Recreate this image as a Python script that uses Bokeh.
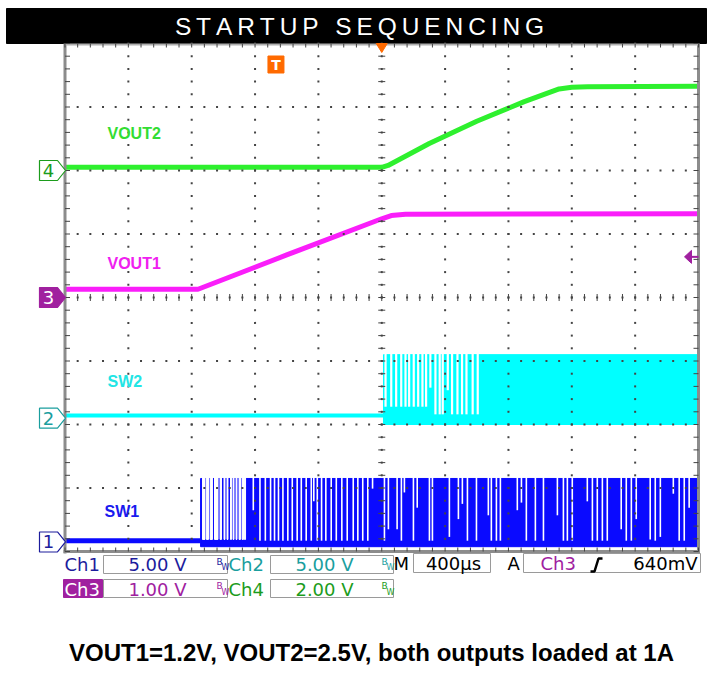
import numpy as np
from bokeh.plotting import figure
from bokeh.models import Range1d
from bokeh.core.properties import value
from bokeh.embed import file_html
from bokeh.resources import INLINE

# ---------------- data ----------------
time_per_div = 400.0            # µs / div, trigger at t = 0
t_min, t_max = -2000.0, 2000.0
n_xdiv, n_ydiv = 10, 8

ch_names = ["1", "2", "3", "4"]
ch_scale = {"1": 5.0, "2": 5.0, "3": 1.0, "4": 2.0}       # V/div
ch_offset = {"1": -3.85, "2": -1.9, "3": 0.0, "4": 2.0}   # div
ch_scale_text = {"1": "5.00 V", "2": "5.00 V", "3": "1.00 V", "4": "2.00 V"}
horiz_text = "400µs"
trig_source = "Ch3"
trig_level_text = "640mV"
trig_level = 0.64               # V on ch3
trig_marker_t = -668            # µs

vout2_t = [-2000, 0, 40, 300, 600, 900, 1120, 1200, 1300, 2000]
vout2_v = [0.10, 0.10, 0.16, 0.85, 1.55, 2.17, 2.57, 2.62, 2.64, 2.65]
vout1_t = [-2000, -1160, -600, 0, 60, 150, 2000]
vout1_v = [0.13, 0.13, 0.67, 1.24, 1.29, 1.31, 1.32]

# SW1 (switch node 1)
sw1_start = -1144
sw1_base, sw1_hi, sw1_lo = 0.1, 5.0, -0.37
sw1_sparse_l = [-1132, -1107, -1084, -1056, -1021, -996, -977, -955, -939, -920, -901, -882, -867]
sw1_sparse_r = [-1116, -1094, -1069, -1034, -1012, -990, -971, -949, -933, -914, -892, -873, -860]
sw1_gap_t = [-811, -769, -735, -702, -677, -652, -624, -593, -565, -534, -508, -477, -445, -429,
             -407, -380, -353, -319, -287, -252, -218, -180, -151, -120, -88, -58, 17, 42, 97,
             124, 143, 200, 224, 301, 320, 427, 484, 509, 541, 598, 673, 692, 724, 749, 856,
             882, 913, 970, 1021, 1109, 1147, 1172, 1203, 1298, 1330, 1361, 1393, 1424, 1512,
             1544, 1576, 1607, 1695, 1727, 1759, 1841, 1878, 1910, 1941]
sw1_gap_v = [2.5, 0.1, 0.1, 0.1, 0.1, 0.1, 0.1, 0.1, 0.1, 0.1, 0.1, 0.1, 0.1, 3.2,
             0.1, 0.1, 0.1, 0.1, 0.1, 0.1, 0.1, 0.1, 0.1, 0.1, 0.1, 4.2, 0.1, 1.0, 1.0,
             0.1, 3.9, 0.1, 2.7, 0.1, 0.1, 0.4, 1.8, 3.0, 0.1, 0.1, 2.1, 0.1, 0.1, 0.1, 2.5,
             3.1, 0.1, 0.1, 0.1, 2.1, 0.1, 0.1, 0.1, 3.2, 0.1, 0.1, 0.1, 0.1, 1.0,
             0.1, 0.1, 1.8, 0.2, 0.1, 0.4, 3.8, 0.1, 0.1, 2.7]

# SW2 (switch node 2)
sw2_start = 11
sw2_base, sw2_hi, sw2_lo = 0.2, 5.0, -0.5
sw2_gap_t = [24, 60, 91, 123, 150, 173, 202, 230, 257, 280, 307, 339, 366, 385, 417, 444, 478,
             507, 535, 574, 606]
sw2_gap_v = [0.9, 0.9, 0.9, 0.9, 0.9, 0.9, 0.9, 0.9, 0.9, 0.9, 2.4, 0.3, 0.3, 0.3, 2.2, 0.3, 0.3,
             0.3, 0.3, 0.3, 0.3]

title_text = "STARTUP SEQUENCING"
caption_text = "VOUT1=1.2V, VOUT2=2.5V, both outputs loaded at 1A"

# ---------------- layout helpers (page pixels -> data) ----------------
LEFT_PX, RIGHT_PX, TOP_PX, BOT_PX = 64.5, 698.0, 43.0, 551.0
CX = (LEFT_PX + RIGHT_PX) / 2
CY = (TOP_PX + BOT_PX) / 2
PXX = (RIGHT_PX - LEFT_PX) / n_xdiv      # px per x div
PXY = (BOT_PX - TOP_PX) / n_ydiv         # px per y div


def X(px):
    return (np.asarray(px, dtype=float) - CX) * time_per_div / PXX


def Y(py):
    return (CY - np.asarray(py, dtype=float)) / PXY


def dx(px):
    return px * time_per_div / PXX


def dy(px):
    return px / PXY


def to_div(ch, v):
    return ch_offset[ch] + np.asarray(v, dtype=float) / ch_scale[ch]


W, H = 710, 689
p = figure(width=W, height=H, output_backend="svg", toolbar_location=None,
           x_range=Range1d(float(X(0)), float(X(W))),
           y_range=Range1d(float(Y(H)), float(Y(0))),
           x_axis_type=None, y_axis_type=None, min_border=0)
p.outline_line_color = None
p.grid.visible = False
p.background_fill_color = "white"
p.border_fill_color = "white"

GREEN, MAGENTA, CYAN, BLUE = "#2ef02e", "#fa1efa", "#00ffff", "#0a0aff"
D_BLUE, TEAL, PURPLE, D_GREEN = "#1c1c9c", "#1a9e9e", "#a0209f", "#1c9c1c"


def txt(x, y, s, color, size, font="DejaVu Sans", style="normal", align="left"):
    p.text(x=[x], y=[y], text=[s], text_color=color, text_font=value(font),
           text_font_size=size, text_font_style=style, text_align=align,
           text_baseline="middle")


# ---------------- title bar ----------------
p.quad(left=X(6), right=X(706), bottom=Y(43), top=Y(8), color="black")
spaced_title = "\u2009".join(title_text)
txt(X(359), Y(26), spaced_title, "white", "24.5px", font="Liberation Sans", align="center")

# ---------------- traces ----------------
y_sw1 = lambda v: to_div("1", v)
y_sw2 = lambda v: to_div("2", v)

# SW1
p.line([t_min, sw1_start], [y_sw1(sw1_base)] * 2, line_width=5, color=BLUE)
p.quad(left=sw1_start, right=t_max, bottom=y_sw1(sw1_lo), top=y_sw1(sw1_hi), color=BLUE)
p.quad(left=sw1_sparse_l, right=sw1_sparse_r, bottom=y_sw1(0.2),
       top=y_sw1(sw1_hi) + dy(3), color="white")
p.segment(x0=sw1_gap_t, x1=sw1_gap_t, y0=y_sw1(sw1_gap_v), y1=y_sw1(sw1_hi) + dy(3),
          line_width=1.6, color="white")

# SW2
p.line([t_min, sw2_start], [y_sw2(sw2_base)] * 2, line_width=4, color=CYAN)
p.quad(left=sw2_start, right=t_max, bottom=y_sw2(sw2_lo), top=y_sw2(sw2_hi), color=CYAN)
p.segment(x0=sw2_gap_t, x1=sw2_gap_t, y0=y_sw2(sw2_gap_v), y1=y_sw2(sw2_hi) + dy(4),
          line_width=2.2, color="white")

# VOUT1 / VOUT2
p.line(vout1_t, to_div("3", vout1_v), line_width=5, color=MAGENTA)
p.line(vout2_t, to_div("4", vout2_v), line_width=5, color=GREEN)

# ---------------- graticule ----------------
xs_major = np.linspace(t_min, t_max, n_xdiv + 1)[1:-1]
ys_major = np.arange(-n_ydiv // 2 + 1, n_ydiv // 2)
ys_minor = np.linspace(-n_ydiv / 2, n_ydiv / 2, n_ydiv * 5 + 1)
xs_minor = np.linspace(t_min, t_max, n_xdiv * 5 + 1)
gx, gy = [], []
for xm in xs_major:
    gx += [xm] * len(ys_minor)
    gy += list(ys_minor)
for ym in ys_major:
    gx += list(xs_minor)
    gy += [ym] * len(xs_minor)
p.scatter(gx, gy, marker="square", size=2, fill_color="#444444", line_color=None)

# center-line ticks
p.scatter([0.0] * len(ys_minor), ys_minor, marker="dash", size=7, line_color="#444444", line_width=1)
p.scatter(xs_minor, [0.0] * len(xs_minor), marker="dash", size=7, angle=np.pi / 2,
          line_color="#444444", line_width=1)

# frame border
p.line([t_min, t_min], [Y(TOP_PX), Y(BOT_PX + 2)], line_width=3, color="#8c8c8c")
p.line([t_max, t_max], [Y(TOP_PX), Y(BOT_PX + 2)], line_width=3, color="#8c8c8c")
p.line([X(LEFT_PX - 1.5), X(RIGHT_PX + 1.5)], [-n_ydiv / 2] * 2, line_width=3, color="#8c8c8c")
p.line([t_min, t_max], [n_ydiv / 2 - dy(1)] * 2, line_width=2, color="#b0b0b0")
# edge ticks
p.segment(x0=[t_min] * len(ys_minor), x1=[t_min + dx(5)] * len(ys_minor), y0=ys_minor, y1=ys_minor,
          color="#444444", line_width=1)
p.segment(x0=[t_max] * len(ys_minor), x1=[t_max - dx(5)] * len(ys_minor), y0=ys_minor, y1=ys_minor,
          color="#444444", line_width=1)
p.segment(x0=xs_minor, x1=xs_minor, y0=[n_ydiv / 2] * len(xs_minor),
          y1=[n_ydiv / 2 - dy(4)] * len(xs_minor), color="#444444", line_width=1)
p.segment(x0=xs_minor, x1=xs_minor, y0=[-n_ydiv / 2] * len(xs_minor),
          y1=[-n_ydiv / 2 + dy(4)] * len(xs_minor), color="#444444", line_width=1)

# ---------------- trace labels ----------------
txt(X(107), Y(133), "VOUT2", "#33dd33", "16px", font="Liberation Sans", style="bold")
txt(X(107), Y(262.5), "VOUT1", "#f020f0", "16px", font="Liberation Sans", style="bold")
txt(X(107), Y(381), "SW2", "#22e5e5", "16px", font="Liberation Sans", style="bold")
txt(X(104), Y(511), "SW1", "#1a1aee", "16px", font="Liberation Sans", style="bold")

# ---------------- channel ground markers ----------------
marker_style = {"1": ("white", D_BLUE, D_BLUE), "2": ("white", TEAL, TEAL),
                "3": (PURPLE, PURPLE, "white"), "4": ("white", D_GREEN, D_GREEN)}
shape_x = np.array([39, 57, 65, 57, 39])
shape_y = np.array([-10, -10, 0, 10, 10])
for ch in ch_names:
    fill, line, tcol = marker_style[ch]
    yc = ch_offset[ch]
    p.patch(X(shape_x), yc + dy(-shape_y), fill_color=fill, line_color=line, line_width=1.2)
    txt(X(48), yc, ch, tcol, "18px", align="center")

# trigger position marker (orange T) and horizontal position triangle
tx0 = trig_marker_t
p.quad(left=tx0 - dx(8), right=tx0 + dx(8), bottom=Y(72.5), top=Y(55.5),
       fill_color="#ff6a00", line_color="#ff6a00")
txt(tx0, Y(64.5), "T", "white", "14px", font="DejaVu Sans", style="bold", align="center")
p.patch([0 - dx(5.5), 0 + dx(5.5), 0], [Y(43), Y(43), Y(52)], color="#ff6a00")

# trigger level arrow (ch3)
yl = to_div("3", trig_level)
p.patch([t_max - dx(14), t_max - dx(7), t_max - dx(7)], [yl, yl + dy(6.5), yl - dy(6.5)], color=PURPLE)
p.line([t_max - dx(7), t_max], [yl, yl], line_width=2, color=PURPLE)

# ---------------- settings readout ----------------
row1, row2 = Y(564), Y(588.5)


def box(l, r, t, b, fill="white", line="#9a9a9a"):
    p.quad(left=X(l), right=X(r), top=Y(t), bottom=Y(b), fill_color=fill, line_color=line, line_width=1)


def bw(xpx, ycen, color):
    txt(X(xpx), ycen + dy(3), "B", color, "9px")
    txt(X(xpx + 5), ycen - dy(3), "W", color, "8px")


for (row, top_px, bot_px) in [(row1, 555, 573), (row2, 579, 597)]:
    box(103, 227, top_px, bot_px)
    box(270, 393, top_px, bot_px)

col = {"1": D_BLUE, "2": TEAL, "3": PURPLE, "4": D_GREEN}
p.quad(left=X(63), right=X(102), top=Y(579), bottom=Y(597), fill_color=PURPLE, line_color=PURPLE)
txt(X(64), row1, "Ch1", col["1"], "18px")
txt(X(64), row2, "Ch3", "white", "18px")
txt(X(228), row1, "Ch2", col["2"], "18px")
txt(X(228), row2, "Ch4", col["4"], "18px")
txt(X(157), row1, ch_scale_text["1"], col["1"], "18px", align="center")
txt(X(157), row2, ch_scale_text["3"], col["3"], "18px", align="center")
txt(X(324), row1, ch_scale_text["2"], col["2"], "18px", align="center")
txt(X(324), row2, ch_scale_text["4"], col["4"], "18px", align="center")
bw(216, row1, col["1"])
bw(216, row2, col["3"])
bw(381, row1, col["2"])
bw(381, row2, col["4"])

box(413, 490, 553, 572)
box(523, 700, 553, 572)
txt(X(393), row1 + dy(1), "M", "black", "18px")
txt(X(453), row1 + dy(1), horiz_text, "black", "18px", align="center")
txt(X(507), row1 + dy(1), "A", "black", "18px")
txt(X(540), row1 + dy(1), trig_source, PURPLE, "18px")
p.line(X([590, 594, 598, 602]), Y([571, 571, 558, 558]), line_width=2.5, color="black")
txt(X(697), row1 + dy(1), trig_level_text, "black", "18px", align="right")

# ---------------- caption ----------------
txt(X(371), Y(652), caption_text, "black", "24px", font="Liberation Sans", style="bold", align="center")

open("out.html", "w").write(file_html(p, INLINE))
